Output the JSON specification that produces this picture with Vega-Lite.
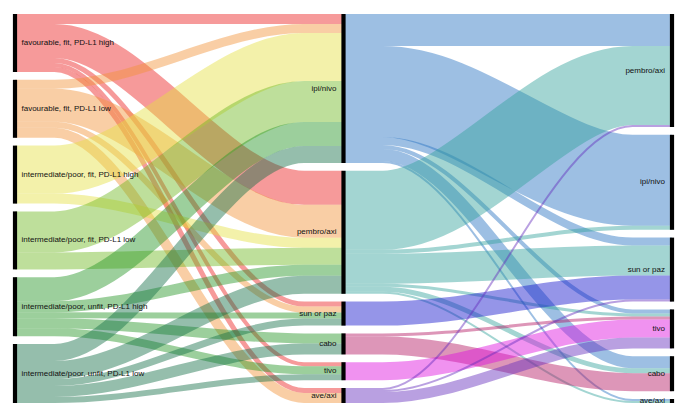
{
  "$schema": "https://vega.github.io/schema/vega-lite/v6.json",
  "width": 657,
  "height": 389,
  "padding": {"left": 15, "top": 14, "right": 16, "bottom": 15},
  "autosize": {"type": "none"},
  "background": "white",
  "config": {"view": {"stroke": null}},
  "datasets": {
    "links": [
      {"l":1,"s":"fh","x":0,"y":5,"n":10},{"l":1,"s":"fh","x":0.12,"y":5,"n":10},{"l":1,"s":"fh","x":0.88,"y":5,"n":10},{"l":1,"s":"fh","x":1,"y":5,"n":10},
      {"l":2,"s":"fh","x":0,"y":27,"n":34},{"l":2,"s":"fh","x":0.12,"y":27,"n":34},{"l":2,"s":"fh","x":0.88,"y":173.8,"n":34},{"l":2,"s":"fh","x":1,"y":173.8,"n":34},
      {"l":3,"s":"fh","x":0,"y":46.5,"n":5},{"l":3,"s":"fh","x":0.12,"y":46.5,"n":5},{"l":3,"s":"fh","x":0.88,"y":290.1,"n":5},{"l":3,"s":"fh","x":1,"y":290.1,"n":5},
      {"l":4,"s":"fh","x":0,"y":51,"n":4},{"l":4,"s":"fh","x":0.12,"y":51,"n":4},{"l":4,"s":"fh","x":0.88,"y":350.2,"n":4},{"l":4,"s":"fh","x":1,"y":350.2,"n":4},
      {"l":5,"s":"fh","x":0,"y":55.5,"n":5},{"l":5,"s":"fh","x":0.12,"y":55.5,"n":5},{"l":5,"s":"fh","x":0.88,"y":376.5,"n":5},{"l":5,"s":"fh","x":1,"y":376.5,"n":5},
      {"l":6,"s":"fl","x":0,"y":70.3,"n":9},{"l":6,"s":"fl","x":0.12,"y":70.3,"n":9},{"l":6,"s":"fl","x":0.88,"y":14.5,"n":9},{"l":6,"s":"fl","x":1,"y":14.5,"n":9},
      {"l":7,"s":"fl","x":0,"y":91.3,"n":33},{"l":7,"s":"fl","x":0.12,"y":91.3,"n":33},{"l":7,"s":"fl","x":0.88,"y":207.3,"n":33},{"l":7,"s":"fl","x":1,"y":207.3,"n":33},
      {"l":8,"s":"fl","x":0,"y":110.8,"n":6},{"l":8,"s":"fl","x":0.12,"y":110.8,"n":6},{"l":8,"s":"fl","x":0.88,"y":295.6,"n":6},{"l":8,"s":"fl","x":1,"y":295.6,"n":6},
      {"l":9,"s":"fl","x":0,"y":118.8,"n":10},{"l":9,"s":"fl","x":0.12,"y":118.8,"n":10},{"l":9,"s":"fl","x":0.88,"y":384,"n":10},{"l":9,"s":"fl","x":1,"y":384,"n":10},
      {"l":10,"s":"ih","x":0,"y":155.6,"n":48},{"l":10,"s":"ih","x":0.12,"y":155.6,"n":48},{"l":10,"s":"ih","x":0.88,"y":43,"n":48},{"l":10,"s":"ih","x":1,"y":43,"n":48},
      {"l":11,"s":"ih","x":0,"y":184.6,"n":10},{"l":11,"s":"ih","x":0.12,"y":184.6,"n":10},{"l":11,"s":"ih","x":0.88,"y":228.8,"n":10},{"l":11,"s":"ih","x":1,"y":228.8,"n":10},
      {"l":12,"s":"il","x":0,"y":217.9,"n":41},{"l":12,"s":"il","x":0.12,"y":217.9,"n":41},{"l":12,"s":"il","x":0.88,"y":87.5,"n":41},{"l":12,"s":"il","x":1,"y":87.5,"n":41},
      {"l":13,"s":"il","x":0,"y":246.9,"n":17},{"l":13,"s":"il","x":0.12,"y":246.9,"n":17},{"l":13,"s":"il","x":0.88,"y":242.3,"n":17},{"l":13,"s":"il","x":1,"y":242.3,"n":17},
      {"l":14,"s":"uh","x":0,"y":275.2,"n":24},{"l":14,"s":"uh","x":0.12,"y":275.2,"n":24},{"l":14,"s":"uh","x":0.88,"y":120,"n":24},{"l":14,"s":"uh","x":1,"y":120,"n":24},
      {"l":15,"s":"uh","x":0,"y":292.7,"n":11},{"l":15,"s":"uh","x":0.12,"y":292.7,"n":11},{"l":15,"s":"uh","x":0.88,"y":256.3,"n":11},{"l":15,"s":"uh","x":1,"y":256.3,"n":11},
      {"l":16,"s":"uh","x":0,"y":301.2,"n":6},{"l":16,"s":"uh","x":0.12,"y":301.2,"n":6},{"l":16,"s":"uh","x":0.88,"y":301.6,"n":6},{"l":16,"s":"uh","x":1,"y":301.6,"n":6},
      {"l":17,"s":"uh","x":0,"y":309.2,"n":10},{"l":17,"s":"uh","x":0.12,"y":309.2,"n":10},{"l":17,"s":"uh","x":0.88,"y":324.4,"n":10},{"l":17,"s":"uh","x":1,"y":324.4,"n":10},
      {"l":18,"s":"uh","x":0,"y":318.2,"n":8},{"l":18,"s":"uh","x":0.12,"y":318.2,"n":8},{"l":18,"s":"uh","x":0.88,"y":356.2,"n":8},{"l":18,"s":"uh","x":1,"y":356.2,"n":8},
      {"l":19,"s":"ul","x":0,"y":338.5,"n":17},{"l":19,"s":"ul","x":0.12,"y":338.5,"n":17},{"l":19,"s":"ul","x":0.88,"y":140.5,"n":17},{"l":19,"s":"ul","x":1,"y":140.5,"n":17},
      {"l":20,"s":"ul","x":0,"y":356,"n":18},{"l":20,"s":"ul","x":0.12,"y":356,"n":18},{"l":20,"s":"ul","x":0.88,"y":270.8,"n":18},{"l":20,"s":"ul","x":1,"y":270.8,"n":18},
      {"l":21,"s":"ul","x":0,"y":368.5,"n":7},{"l":21,"s":"ul","x":0.12,"y":368.5,"n":7},{"l":21,"s":"ul","x":0.88,"y":308.1,"n":7},{"l":21,"s":"ul","x":1,"y":308.1,"n":7},
      {"l":22,"s":"ul","x":0,"y":377.5,"n":11},{"l":22,"s":"ul","x":0.12,"y":377.5,"n":11},{"l":22,"s":"ul","x":0.88,"y":334.9,"n":11},{"l":22,"s":"ul","x":1,"y":334.9,"n":11},
      {"l":23,"s":"ul","x":0,"y":386,"n":6},{"l":23,"s":"ul","x":0.12,"y":386,"n":6},{"l":23,"s":"ul","x":0.88,"y":363.2,"n":6},{"l":23,"s":"ul","x":1,"y":363.2,"n":6},
      {"l":24,"s":"ipi","x":1,"y":16,"n":32},{"l":24,"s":"ipi","x":1.12,"y":16,"n":32},{"l":24,"s":"ipi","x":1.88,"y":16,"n":32},{"l":24,"s":"ipi","x":2,"y":16,"n":32},
      {"l":25,"s":"ipi","x":1,"y":77.5,"n":91},{"l":25,"s":"ipi","x":1.12,"y":77.5,"n":91},{"l":25,"s":"ipi","x":1.88,"y":166.3,"n":91},{"l":25,"s":"ipi","x":2,"y":166.3,"n":91},
      {"l":26,"s":"ipi","x":1,"y":127,"n":8},{"l":26,"s":"ipi","x":1.12,"y":127,"n":8},{"l":26,"s":"ipi","x":1.88,"y":227.6,"n":8},{"l":26,"s":"ipi","x":2,"y":227.6,"n":8},
      {"l":27,"s":"ipi","x":1,"y":133,"n":4},{"l":27,"s":"ipi","x":1.12,"y":133,"n":4},{"l":27,"s":"ipi","x":1.88,"y":297.4,"n":4},{"l":27,"s":"ipi","x":2,"y":297.4,"n":4},
      {"l":28,"s":"ipi","x":1,"y":141,"n":12},{"l":28,"s":"ipi","x":1.12,"y":141,"n":12},{"l":28,"s":"ipi","x":1.88,"y":348.2,"n":12},{"l":28,"s":"ipi","x":2,"y":348.2,"n":12},
      {"l":29,"s":"ipi","x":1,"y":148,"n":2},{"l":29,"s":"ipi","x":1.12,"y":148,"n":2},{"l":29,"s":"ipi","x":1.88,"y":386,"n":2},{"l":29,"s":"ipi","x":2,"y":386,"n":2},
      {"l":30,"s":"pem","x":1,"y":196.3,"n":79},{"l":30,"s":"pem","x":1.12,"y":196.3,"n":79},{"l":30,"s":"pem","x":1.88,"y":71.5,"n":79},{"l":30,"s":"pem","x":2,"y":71.5,"n":79},
      {"l":31,"s":"pem","x":1,"y":237.8,"n":4},{"l":31,"s":"pem","x":1.12,"y":237.8,"n":4},{"l":31,"s":"pem","x":1.88,"y":213.8,"n":4},{"l":31,"s":"pem","x":2,"y":213.8,"n":4},
      {"l":32,"s":"pem","x":1,"y":254.8,"n":30},{"l":32,"s":"pem","x":1.12,"y":254.8,"n":30},{"l":32,"s":"pem","x":1.88,"y":246.6,"n":30},{"l":32,"s":"pem","x":2,"y":246.6,"n":30},
      {"l":33,"s":"pem","x":1,"y":271.3,"n":3},{"l":33,"s":"pem","x":1.12,"y":271.3,"n":3},{"l":33,"s":"pem","x":1.88,"y":300.9,"n":3},{"l":33,"s":"pem","x":2,"y":300.9,"n":3},
      {"l":34,"s":"pem","x":1,"y":275.3,"n":5},{"l":34,"s":"pem","x":1.12,"y":275.3,"n":5},{"l":34,"s":"pem","x":1.88,"y":356.7,"n":5},{"l":34,"s":"pem","x":2,"y":356.7,"n":5},
      {"l":35,"s":"pem","x":1,"y":278.8,"n":2},{"l":35,"s":"pem","x":1.12,"y":278.8,"n":2},{"l":35,"s":"pem","x":1.88,"y":388,"n":2},{"l":35,"s":"pem","x":2,"y":388,"n":2},
      {"l":36,"s":"sun","x":1,"y":299.6,"n":24},{"l":36,"s":"sun","x":1.12,"y":299.6,"n":24},{"l":36,"s":"sun","x":1.88,"y":273.6,"n":24},{"l":36,"s":"sun","x":2,"y":273.6,"n":24},
      {"l":37,"s":"cabo","x":1,"y":320.9,"n":3},{"l":37,"s":"cabo","x":1.12,"y":320.9,"n":3},{"l":37,"s":"cabo","x":1.88,"y":303.9,"n":3},{"l":37,"s":"cabo","x":2,"y":303.9,"n":3},
      {"l":38,"s":"cabo","x":1,"y":331.4,"n":18},{"l":38,"s":"cabo","x":1.12,"y":331.4,"n":18},{"l":38,"s":"cabo","x":1.88,"y":368.2,"n":18},{"l":38,"s":"cabo","x":2,"y":368.2,"n":18},
      {"l":39,"s":"tivo","x":1,"y":357.2,"n":18},{"l":39,"s":"tivo","x":1.12,"y":357.2,"n":18},{"l":39,"s":"tivo","x":1.88,"y":314.4,"n":18},{"l":39,"s":"tivo","x":2,"y":314.4,"n":18},
      {"l":40,"s":"ave","x":1,"y":375,"n":2},{"l":40,"s":"ave","x":1.12,"y":375,"n":2},{"l":40,"s":"ave","x":1.88,"y":112,"n":2},{"l":40,"s":"ave","x":2,"y":112,"n":2},
      {"l":41,"s":"ave","x":1,"y":377,"n":2},{"l":41,"s":"ave","x":1.12,"y":377,"n":2},{"l":41,"s":"ave","x":1.88,"y":286.6,"n":2},{"l":41,"s":"ave","x":2,"y":286.6,"n":2},
      {"l":42,"s":"ave","x":1,"y":383.5,"n":11},{"l":42,"s":"ave","x":1.12,"y":383.5,"n":11},{"l":42,"s":"ave","x":1.88,"y":328.9,"n":11},{"l":42,"s":"ave","x":2,"y":328.9,"n":11}
    ],
    "nodes": [
      {"stage":0,"name":"favourable, fit, PD-L1 high","y0":0,"y1":58,"mid":29},
      {"stage":0,"name":"favourable, fit, PD-L1 low","y0":65.8,"y1":123.8,"mid":94.8},
      {"stage":0,"name":"intermediate/poor, fit, PD-L1 high","y0":131.6,"y1":189.6,"mid":160.6},
      {"stage":0,"name":"intermediate/poor, fit, PD-L1 low","y0":197.4,"y1":255.4,"mid":226.4},
      {"stage":0,"name":"intermediate/poor, unfit, PD-L1 high","y0":263.2,"y1":322.2,"mid":292.7},
      {"stage":0,"name":"intermediate/poor, unfit, PD-L1 low","y0":330,"y1":389,"mid":359.5},
      {"stage":1,"name":"ipi/nivo","y0":0,"y1":149,"mid":74.5},
      {"stage":1,"name":"pembro/axi","y0":156.8,"y1":279.8,"mid":218.3},
      {"stage":1,"name":"sun or paz","y0":287.6,"y1":311.6,"mid":299.6},
      {"stage":1,"name":"cabo","y0":319.4,"y1":340.4,"mid":329.9},
      {"stage":1,"name":"tivo","y0":348.2,"y1":366.2,"mid":357.2},
      {"stage":1,"name":"ave/axi","y0":374,"y1":389,"mid":381.5},
      {"stage":2,"name":"pembro/axi","y0":0,"y1":113,"mid":56.5},
      {"stage":2,"name":"ipi/nivo","y0":120.8,"y1":215.8,"mid":168.3},
      {"stage":2,"name":"sun or paz","y0":223.6,"y1":287.6,"mid":255.6},
      {"stage":2,"name":"tivo","y0":295.4,"y1":334.4,"mid":314.9},
      {"stage":2,"name":"cabo","y0":342.2,"y1":377.2,"mid":359.7},
      {"stage":2,"name":"ave/axi","y0":385,"y1":389,"mid":387}
    ]
  },
  "layer": [
    {
      "data": {"name": "links"},
      "mark": {"type": "line", "interpolate": "monotone", "strokeCap": "butt", "opacity": 0.45},
      "encoding": {
        "x": {"field": "x", "type": "quantitative", "scale": {"domain": [0, 2], "nice": false, "zero": false}, "axis": null},
        "y": {"field": "y", "type": "quantitative", "scale": {"domain": [0, 389], "reverse": true, "nice": false, "zero": false}, "axis": null},
        "detail": {"field": "l", "type": "nominal"},
        "order": {"field": "x", "type": "quantitative"},
        "color": {
          "field": "s", "type": "nominal", "legend": null,
          "scale": {
            "domain": ["fh", "fl", "ih", "il", "uh", "ul", "ipi", "pem", "sun", "cabo", "tivo", "ave"],
            "range": ["#eb1f1f", "#f29237", "#e4e042", "#6fb821", "#239423", "#156e46", "#2571c1", "#33a29b", "#1515cc", "#b31661", "#de0dde", "#632cbc"]
          }
        },
        "strokeWidth": {"field": "n", "type": "quantitative", "legend": null, "scale": {"domain": [0, 389], "range": [0, 389], "zero": true, "nice": false}}
      }
    },
    {
      "data": {"name": "nodes"},
      "mark": {"type": "rule", "strokeWidth": 4.2, "color": "#000000", "strokeCap": "butt"},
      "encoding": {
        "x": {"field": "stage", "type": "quantitative"},
        "y": {"field": "y0", "type": "quantitative"},
        "y2": {"field": "y1"}
      }
    },
    {
      "data": {"name": "nodes"},
      "transform": [{"filter": "datum.stage == 0"}],
      "mark": {"type": "text", "align": "left", "baseline": "middle", "dx": 6.5, "font": "Liberation Sans", "fontSize": 8, "color": "#111111"},
      "encoding": {
        "x": {"field": "stage", "type": "quantitative"},
        "y": {"field": "mid", "type": "quantitative"},
        "text": {"field": "name"}
      }
    },
    {
      "data": {"name": "nodes"},
      "transform": [{"filter": "datum.stage > 0"}],
      "mark": {"type": "text", "align": "right", "baseline": "middle", "dx": -7, "font": "Liberation Sans", "fontSize": 8, "color": "#111111"},
      "encoding": {
        "x": {"field": "stage", "type": "quantitative"},
        "y": {"field": "mid", "type": "quantitative"},
        "text": {"field": "name"}
      }
    }
  ]
}
